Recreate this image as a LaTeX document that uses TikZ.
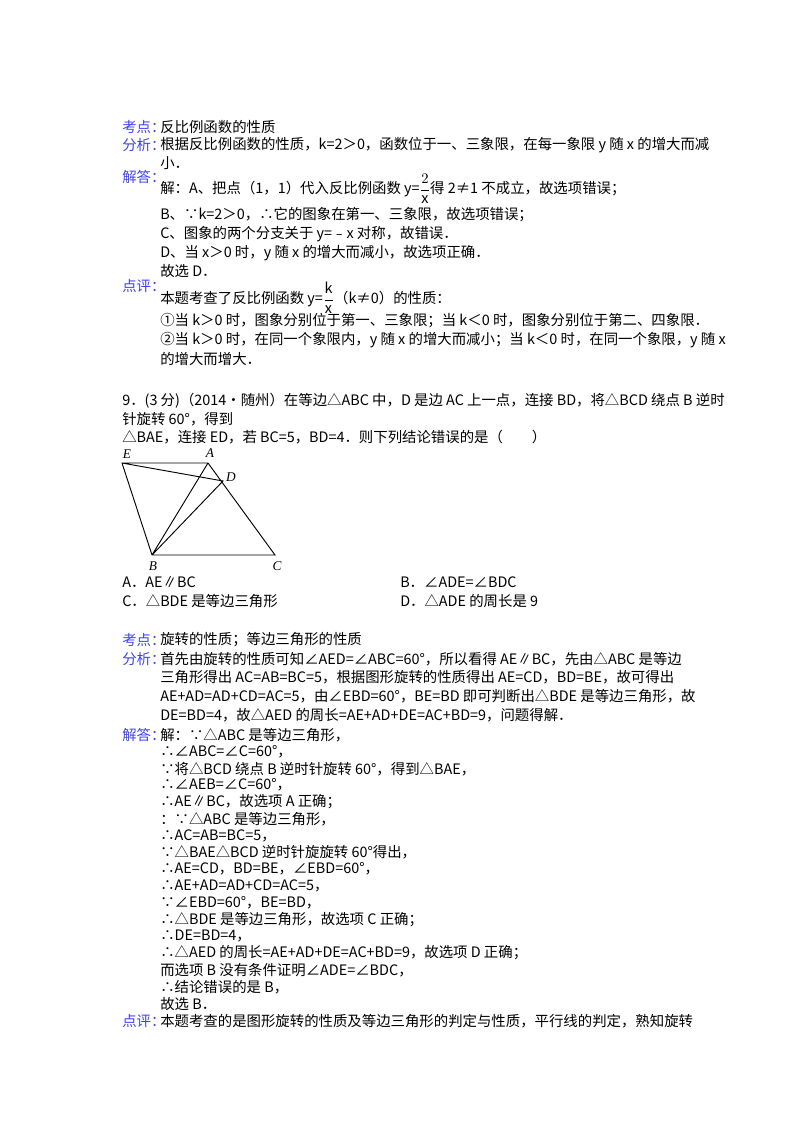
\documentclass[tikz,border=0pt]{standalone}
\usepackage{fontspec}
\setmainfont{Noto Sans CJK SC}
\newfontfamily\lat{Liberation Serif}
\begin{document}
\begin{tikzpicture}[x=0.75pt,y=-0.75pt,
  lbl/.style={anchor=west,inner sep=0,text=blue!75!white,font=\fontsize{10.8}{13}\selectfont},
  tx/.style={anchor=west,inner sep=0,font=\fontsize{10.8}{13}\selectfont},
  pt/.style={font=\itshape\lat\fontsize{10}{12}\selectfont,inner sep=1pt},
  seg/.style={line width=0.7pt}]
\useasboundingbox (0,0) rectangle (800,1132);
\fill[white] (0,0) rectangle (800,1132);
\node[lbl] (l1) at (122,127) {考点：};
\node[tx] (t1) at (160,127) {反比例函数的性质};
\node[lbl] (l2) at (122,145) {分析：};
\node[tx] (t2) at (160,145) {根据反比例函数的性质，k=2＞0，函数位于一、三象限，在每一象限 y 随 x 的增大而减};
\node[tx] (t3) at (160,163) {小．};
\node[lbl] (l3) at (122,177) {解答：};
\node[tx] (t4) at (160,189) {解：A、把点（1，1）代入反比例函数 y=$\displaystyle\frac{2}{\mathrm{x}}$得 2≠1 不成立，故选项错误；};
\node[tx] (t5) at (160,215) {B、∵k=2＞0，∴它的图象在第一、三象限，故选项错误；};
\node[tx] (t6) at (160,234) {C、图象的两个分支关于 y=﹣x 对称，故错误．};
\node[tx] (t7) at (160,253) {D、当 x＞0 时，y 随 x 的增大而减小，故选项正确．};
\node[tx] (t8) at (160,271) {故选 D．};
\node[lbl] (l4) at (122,286) {点评：};
\node[tx] (t9) at (160,298) {本题考查了反比例函数 y=$\displaystyle\frac{\mathrm{k}}{\mathrm{x}}$（k≠0）的性质：};
\node[tx] (t10) at (160,321) {①当 k＞0 时，图象分别位于第一、三象限；当 k＜0 时，图象分别位于第二、四象限．};
\node[tx] (t11) at (160,340) {②当 k＞0 时，在同一个象限内，y 随 x 的增大而减小；当 k＜0 时，在同一个象限，y 随 x};
\node[tx] (t12) at (160,359) {的增大而增大．};
\node[tx] (q1) at (122,401) {9．(3 分)（2014•随州）在等边△ABC 中，D 是边 AC 上一点，连接 BD，将△BCD 绕点 B 逆时};
\node[tx] (q2) at (122,419) {针旋转 60°，得到};
\node[tx] (q3) at (122,437) {△BAE，连接 ED，若 BC=5，BD=4．则下列结论错误的是（　　）};
\coordinate (E) at (122,463);
\coordinate (A) at (208,463);
\coordinate (D) at (223,481);
\coordinate (B) at (152,555);
\coordinate (C) at (275,555);
\draw[seg] (E)--(A)--(C)--(B)--cycle (B)--(A) (B)--(D)--(E);
\node[pt] (nE) at (127,454) {E};
\node[pt] (nA) at (210,453) {A};
\node[pt] (nD) at (231,477) {D};
\node[pt] (nB) at (153,566) {B};
\node[pt] (nC) at (277,566) {C};
\node[tx] (o1) at (122,582) {A．AE∥BC};
\node[tx] (o2) at (400,582) {B．∠ADE=∠BDC};
\node[tx] (o3) at (122,601) {C．△BDE 是等边三角形};
\node[tx] (o4) at (400,601) {D．△ADE 的周长是 9};
\node[lbl] (m1) at (122,640) {考点：};
\node[tx] (s1) at (160,640) {旋转的性质；等边三角形的性质};
\node[lbl] (m2) at (122,659) {分析：};
\node[tx] (s2) at (160,659) {首先由旋转的性质可知∠AED=∠ABC=60°，所以看得 AE∥BC，先由△ABC 是等边};
\node[tx] (s3) at (160,677) {三角形得出 AC=AB=BC=5，根据图形旋转的性质得出 AE=CD，BD=BE，故可得出};
\node[tx] (s4) at (160,696) {AE+AD=AD+CD=AC=5，由∠EBD=60°，BE=BD 即可判断出△BDE 是等边三角形，故};
\node[tx] (s5) at (160,715) {DE=BD=4，故△AED 的周长=AE+AD+DE=AC+BD=9，问题得解．};
\node[lbl] (m3) at (122,735) {解答：};
\node[tx] (r1) at (160,735) {解：∵△ABC 是等边三角形，};
\node[tx] (r2) at (160,752) {∴∠ABC=∠C=60°，};
\node[tx] (r3) at (160,769) {∵将△BCD 绕点 B 逆时针旋转 60°，得到△BAE，};
\node[tx] (r4) at (160,785) {∴∠AEB=∠C=60°，};
\node[tx] (r5) at (160,802) {∴AE∥BC，故选项 A 正确；};
\node[tx] (r6) at (160,819) {：∵△ABC 是等边三角形，};
\node[tx] (r7) at (160,836) {∴AC=AB=BC=5，};
\node[tx] (r8) at (160,852) {∵△BAE△BCD 逆时针旋旋转 60°得出，};
\node[tx] (r9) at (160,869) {∴AE=CD，BD=BE，∠EBD=60°，};
\node[tx] (r10) at (160,886) {∴AE+AD=AD+CD=AC=5，};
\node[tx] (r11) at (160,903) {∵∠EBD=60°，BE=BD，};
\node[tx] (r12) at (160,920) {∴△BDE 是等边三角形，故选项 C 正确；};
\node[tx] (r13) at (160,936) {∴DE=BD=4，};
\node[tx] (r14) at (160,953) {∴△AED 的周长=AE+AD+DE=AC+BD=9，故选项 D 正确；};
\node[tx] (r15) at (160,970) {而选项 B 没有条件证明∠ADE=∠BDC，};
\node[tx] (r16) at (160,987) {∴结论错误的是 B，};
\node[tx] (r17) at (160,1004) {故选 B．};
\node[lbl] (m4) at (122,1021) {点评：};
\node[tx] (r18) at (160,1021) {本题考查的是图形旋转的性质及等边三角形的判定与性质，平行线的判定，熟知旋转};
\end{tikzpicture}
\end{document}
